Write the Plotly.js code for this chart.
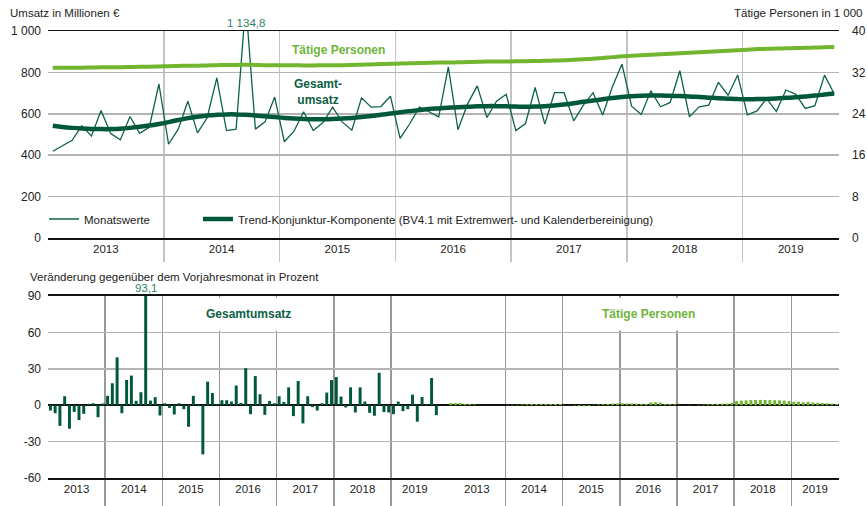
<!DOCTYPE html>
<html>
<head>
<meta charset="utf-8">
<script src="https://cdn.plot.ly/plotly-3.0.1.min.js"></script>
<style>
  html, body { margin: 0; padding: 0; background: #fff; }
  #chart { width: 867px; height: 506px; }
</style>
</head>
<body>
<div id="chart"></div>
<script>
// Jahre (Jan 2013 - Okt 2019, 82 Monate)
const years = ["2013", "2014", "2015", "2016", "2017", "2018", "2019"];

// Umsatz in Mio. EUR
const umsatzMonat = [
  419, 445, 472, 542, 492, 616, 505, 474, 587, 506, 535, 744,
  453, 526, 661, 508, 581, 774, 519, 526, 1134.8, 526, 561, 681,
  465, 516, 610, 519, 558, 632, 561, 521, 677, 632, 635, 685,
  481, 552, 632, 610, 585, 827, 523, 648, 735, 582, 661, 694,
  519, 553, 727, 550, 702, 702, 566, 642, 702, 594, 729, 840,
  637, 597, 711, 634, 655, 808, 585, 634, 642, 752, 690, 787,
  595, 614, 674, 611, 715, 695, 626, 639, 787, 697
];
const umsatzTrend = [
  542, 536, 532, 529, 527, 526, 526, 528, 532, 537, 543, 551,
  560, 570, 579, 586, 592, 595, 597, 597, 595, 592, 588, 584,
  580, 577, 575, 574, 574, 575, 577, 580, 584, 589, 595, 601,
  607, 613, 618, 623, 626, 629, 632, 634, 636, 637, 637, 636,
  635, 634, 635, 637, 640, 645, 651, 658, 664, 670, 676, 681,
  685, 687, 688, 688, 687, 686, 684, 681, 678, 675, 673, 671,
  670, 671, 672, 674, 677, 680, 684, 688, 693, 698
];

// Taetige Personen in 1 000
const personenMonat = [
  32.9, 32.9, 32.9, 32.9, 32.9, 33.0, 33.0, 33.0, 33.0, 33.1, 33.1, 33.1,
  33.2, 33.2, 33.3, 33.3, 33.4, 33.4, 33.4, 33.5, 33.5, 33.5, 33.4, 33.4,
  33.4, 33.3, 33.3, 33.3, 33.4, 33.3, 33.4, 33.4, 33.5, 33.5, 33.6, 33.6,
  33.7, 33.7, 33.8, 33.8, 33.9, 33.9, 33.9, 34.0, 34.0, 34.1, 34.1, 34.1,
  34.1, 34.1, 34.2, 34.2, 34.3, 34.3, 34.4, 34.5, 34.6, 34.8, 35.0, 35.1,
  35.2, 35.3, 35.4, 35.5, 35.6, 35.7, 35.8, 35.9, 36.0, 36.1, 36.2, 36.3,
  36.4, 36.5, 36.6, 36.6, 36.7, 36.7, 36.8, 36.8, 36.9, 36.9
];
const personenTrend = [
  32.9, 32.9, 32.9, 32.9, 32.95, 33.0, 33.0, 33.0, 33.05, 33.1, 33.1, 33.15,
  33.2, 33.25, 33.3, 33.3, 33.35, 33.4, 33.45, 33.45, 33.5, 33.45, 33.4, 33.4,
  33.4, 33.4, 33.35, 33.35, 33.4, 33.4, 33.4, 33.45, 33.5, 33.55, 33.6, 33.65,
  33.7, 33.75, 33.8, 33.85, 33.9, 33.9, 33.95, 34.0, 34.05, 34.1, 34.1, 34.1,
  34.15, 34.15, 34.2, 34.25, 34.3, 34.35, 34.45, 34.55, 34.65, 34.8, 34.95, 35.1,
  35.2, 35.3, 35.4, 35.5, 35.6, 35.7, 35.8, 35.9, 36.0, 36.1, 36.2, 36.3,
  36.4, 36.5, 36.55, 36.6, 36.65, 36.7, 36.75, 36.8, 36.85, 36.9
];

// Veraenderung gegenueber Vorjahresmonat in %
const vjUmsatz = [
  -4.4, -6.6, -17, 7.4, -19.4, -5.5, -12.3, -7.1, 1.1, 1.6, -9.9, 1.4,
  7.7, 18.1, 39.4, -6.6, 20.8, 24.4, 3.6, 10.7, 93.1, 3.8, 6.6, -8.5,
  1.6, -2.2, -7.7, 1.6, -3.3, -17.8, 7.7, -0.8, -40.5, 19.4, 10.1, 0.6,
  4.1, 4.1, 3.0, 16.2, 1.9, 30.5, -7.4, 24.0, 9.0, -7.9, 3.5, 1.6,
  7.4, 2.7, 14.7, -9.0, 19.9, -15.0, 7.4, -1.6, -4.4, 1.6, 10.4, 20.7,
  23.2, 7.1, -1.9, 14.7, -6.0, 14.7, 3.0, -6.3, -8.7, 26.7, -5.7, -6.0,
  -7.4, 3.0, -4.9, -3.3, 8.7, -13.6, 6.8, 0.8, 22.4, -8.2
];
const vjPersonen = [
  1.8, 1.8, 1.7, 1.1, 0.9, 0.6, 0.1, 0.1, 0.0, 0.1, 0.1, 0.0,
  0.2, 0.3, 0.4, 0.6, 0.8, 1.0, 1.0, 1.1, 1.0, 1.0, 1.0, 1.0,
  0.1, -0.1, -0.3, -0.8, -0.9, -0.6, 0.3, 0.6, 0.8, 1.0, 1.3, 1.5,
  1.6, 1.5, 1.4, 1.2, 1.1, 1.0, 2.3, 2.5, 2.2, 1.0, 0.9, 0.8,
  0.1, 0.0, 0.2, 0.0, 0.3, 0.5, 0.8, 1.0, 1.1, 1.2, 1.4, 2.0,
  3.5, 3.8, 4.0, 4.2, 4.3, 4.4, 4.3, 4.2, 4.1, 4.0, 3.8, 3.5,
  2.8, 2.9, 2.5, 2.8, 2.2, 2.0, 1.8, 1.6, 1.3, 1.0
];

const dunkel = "#00583a";
const hell = "#72b62f";
const grau = "#b4b4b4";
const schrift = "Liberation Sans, Arial, sans-serif";

const n = umsatzMonat.length;
const gap = 2;
const xTop = umsatzMonat.map((_, i) => i + 0.5);
const xLinks = vjUmsatz.map((_, i) => i + 0.5);
const xRechts = vjPersonen.map((_, i) => n + gap + i + 0.5);

// Jahresgrenzen und -mitten
const grenzen = years.slice(1).map((_, k) => (k + 1) * 12);
const mitten = years.map((_, k) => k * 12 + Math.min(12, n - k * 12) / 2);
const grenzen2 = grenzen.concat(grenzen.map(g => g + n + gap));
const mitten2 = mitten.concat(mitten.map(m => m + n + gap));

const traces = [
  { x: xTop, y: personenMonat, yaxis: "y2", xaxis: "x", type: "scatter", mode: "lines",
    line: { color: hell, width: 1.5 }, showlegend: false, hoverinfo: "skip" },
  { x: xTop, y: personenTrend, yaxis: "y2", xaxis: "x", type: "scatter", mode: "lines",
    line: { color: hell, width: 4, shape: "spline" }, showlegend: false, hoverinfo: "skip" },
  { x: xTop, y: umsatzMonat, xaxis: "x", yaxis: "y", type: "scatter", mode: "lines",
    line: { color: "#0d6248", width: 1.3 }, name: "Monatswerte", legend: "legend" },
  { x: xTop, y: umsatzTrend, xaxis: "x", yaxis: "y", type: "scatter", mode: "lines",
    line: { color: dunkel, width: 4.5, shape: "spline" }, legend: "legend2",
    name: "Trend-Konjunktur-Komponente (BV4.1 mit Extremwert- und Kalenderbereinigung)" },
  { x: xLinks, y: vjUmsatz, xaxis: "x2", yaxis: "y3", type: "bar", width: 0.62,
    marker: { color: dunkel }, showlegend: false },
  { x: xRechts, y: vjPersonen, xaxis: "x2", yaxis: "y3", type: "bar", width: 0.62,
    marker: { color: hell }, showlegend: false }
];

const tickFont = { family: schrift, size: 12, color: "#222" };
const yearFont = { family: schrift, size: 11.5, color: "#222" };
const legendFont = { family: schrift, size: 11.5, color: "#222" };

const layout = {
  width: 867, height: 506,
  margin: { l: 48, r: 28, t: 31, b: 28 },
  paper_bgcolor: "#fff", plot_bgcolor: "#fff",
  font: { family: schrift, size: 12, color: "#222" },
  separators: ", ",
  barmode: "overlay",
  showlegend: true,
  legend: {
    orientation: "h", x: -0.005, xanchor: "left", y: 0.5794, yanchor: "middle",
    bgcolor: "rgba(0,0,0,0)", font: legendFont, itemwidth: 30
  },
  legend2: {
    orientation: "h", x: 0.1896, xanchor: "left", y: 0.5794, yanchor: "middle",
    bgcolor: "rgba(0,0,0,0)", font: legendFont, itemwidth: 30
  },
  xaxis: {
    domain: [0, 1], anchor: "y", range: [0, n],
    tickmode: "array", tickvals: mitten, ticktext: years, ticks: "",
    showgrid: false, zeroline: false, tickfont: yearFont,
    showline: true, mirror: true, linecolor: "#111", linewidth: 1.5,
    minor: { tickmode: "array", tickvals: grenzen, showgrid: true, gridcolor: "#c4c4c4", gridwidth: 1.5,
             ticks: "outside", ticklen: 22, tickcolor: "#c4c4c4", tickwidth: 1.5 }
  },
  yaxis: {
    domain: [0.5369, 1], anchor: "x", range: [0, 1000],
    tickmode: "array", tickvals: [0, 200, 400, 600, 800, 1000],
    ticktext: ["0", "200", "400", "600", "800", "1 000"],
    gridcolor: grau, gridwidth: 1.5, zeroline: false, ticks: "", ticklabelstandoff: 6,
    tickfont: tickFont
  },
  yaxis2: {
    overlaying: "y", side: "right", anchor: "x", range: [0, 40],
    tickmode: "array", tickvals: [0, 8, 16, 24, 32, 40],
    showgrid: false, zeroline: false, ticks: "", ticklabelstandoff: 12,
    tickfont: tickFont
  },
  xaxis2: {
    domain: [0, 1], anchor: "y3", range: [0, 2 * n + gap],
    tickmode: "array", tickvals: mitten2, ticktext: years.concat(years), ticks: "",
    showgrid: false, zeroline: false, tickfont: yearFont,
    showline: true, mirror: true, linecolor: "#111", linewidth: 1.5,
    minor: { tickmode: "array", tickvals: grenzen2, showgrid: true, gridcolor: "#999", gridwidth: 1.5,
             ticks: "outside", ticklen: 28, tickcolor: "#999", tickwidth: 1.5 }
  },
  yaxis3: {
    domain: [0, 0.4072], anchor: "x2", range: [-60, 90],
    tickmode: "array", tickvals: [-60, -30, 0, 30, 60, 90],
    ticktext: ["-60", "-30", "0", "30", "60", "90"],
    gridcolor: grau, gridwidth: 1.5, zeroline: true, zerolinecolor: "#111", zerolinewidth: 1.5,
    ticks: "", ticklabelstandoff: 6, tickfont: tickFont
  },
  // weisse Flaechen, die die senkrechten Gitterlinien hinter Legende und Beschriftungen verdecken
  shapes: [
    { type: "rect", layer: "between", xref: "paper", yref: "y", x0: 0.002, x1: 0.998, y0: 32, y1: 152,
      fillcolor: "#fff", line: { width: 0 } },
    { type: "rect", layer: "between", xref: "x2", yref: "y3", x0: 25, x1: 59, y0: 61.5, y1: 88.5,
      fillcolor: "#fff", line: { width: 0 } },
    { type: "rect", layer: "between", xref: "x2", yref: "y3", x0: 109, x1: 143, y0: 61.5, y1: 88.5,
      fillcolor: "#fff", line: { width: 0 } }
  ],
  annotations: [
    { text: "Umsatz in Millionen €", xref: "paper", yref: "paper", x: -0.0506, y: 1.040,
      xanchor: "left", yanchor: "middle", showarrow: false, font: { family: schrift, size: 11.5, color: "#222" } },
    { text: "Tätige Personen in 1 000", xref: "paper", yref: "paper", x: 1.0329, y: 1.040,
      xanchor: "right", yanchor: "middle", showarrow: false, font: { family: schrift, size: 11.5, color: "#222" } },
    { text: "Veränderung gegenüber dem Vorjahresmonat in Prozent", xref: "paper", yref: "paper",
      x: -0.0253, y: 0.4497, xanchor: "left", yanchor: "middle", showarrow: false,
      font: { family: schrift, size: 11.5, color: "#222" } },
    { text: "1 134,8", xref: "x", yref: "y", x: xTop[20], y: 1000, xanchor: "center", yanchor: "bottom",
      showarrow: false, font: { family: schrift, size: 11.5, color: "#2f8466" } },
    { text: "93,1", xref: "x2", yref: "y3", x: xLinks[20], y: 90, xanchor: "center", yanchor: "bottom",
      showarrow: false, font: { family: schrift, size: 11.5, color: "#2f8466" } },
    { text: "<b>Tätige Personen</b>", xref: "x", yref: "y", x: 30.1, y: 907, showarrow: false,
      font: { family: schrift, size: 12, color: "#6fb43a" } },
    { text: "<b>Gesamt-<br>umsatz</b>", xref: "x", yref: "y", x: 28, y: 706, showarrow: false,
      font: { family: schrift, size: 12, color: "#0c5e44" } },
    { text: "<b>Gesamtumsatz</b>", xref: "x2", yref: "y3", x: 42, y: 75, showarrow: false,
      font: { family: schrift, size: 12, color: "#0c5e44" } },
    { text: "<b>Tätige Personen</b>", xref: "x2", yref: "y3", x: 126, y: 75, showarrow: false,
      font: { family: schrift, size: 12, color: "#6fb43a" } }
  ]
};

Plotly.newPlot("chart", traces, layout, { staticPlot: true });
</script>
</body>
</html>
